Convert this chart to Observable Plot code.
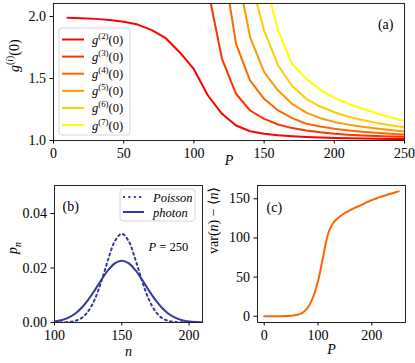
<!DOCTYPE html>
<html><head><meta charset="utf-8">
<script src="https://cdn.jsdelivr.net/npm/d3@7"></script>
<script src="https://cdn.jsdelivr.net/npm/@observablehq/plot@0.6"></script>
<style>
body{margin:0;background:#fff}
#fig{position:relative;width:415px;height:363px;overflow:hidden;background:#fff}
#fig svg{position:absolute}
</style></head><body><div id="fig"></div>
<script>
// ---------- panel (a) data ----------
const pumpA = [10,20,30,40,50,60,70,80,90,100,110,120,130,140,150,160,170,180,190,200,210,220,230,240,250];
const g2 = [1.99,1.987,1.981,1.971,1.957,1.935,1.89,1.825,1.71,1.575,1.363,1.215,1.121,1.075,1.054,1.042,1.034,1.028,1.024,1.02,1.018,1.016,1.014,1.013,1.012];
const g3 = [5.95,5.9,5.85,5.75,5.6,5.35,4.95,4.35,3.6,2.85,2.22,1.659,1.377,1.242,1.175,1.129,1.1,1.08,1.066,1.055,1.047,1.041,1.037,1.033,1.03];
const g4 = [23.5,23.2,22.8,22.2,21,19,16,12.5,9,5.5,3.6,2.49,1.78,1.484,1.336,1.242,1.18,1.135,1.113,1.094,1.081,1.07,1.062,1.055,1.048];
const g5 = [115,113,110,105,96,82,64,45,27,15,8,3.6,2.41,1.833,1.551,1.403,1.295,1.225,1.18,1.15,1.128,1.11,1.096,1.084,1.073];
const g6 = [700,690,670,640,590,510,400,280,160,80,35,12,4.5,2.314,1.887,1.605,1.44,1.336,1.274,1.228,1.192,1.165,1.142,1.123,1.107];
const g7 = [5000,4900,4750,4500,4100,3500,2700,1800,1000,450,170,55,14,4.2,2.32,1.887,1.615,1.497,1.409,1.344,1.296,1.256,1.22,1.188,1.156];
const gSeries = [g2,g3,g4,g5,g6,g7];
const gLabels = ["g^{(2)}(0)","g^{(3)}(0)","g^{(4)}(0)","g^{(5)}(0)","g^{(6)}(0)","g^{(7)}(0)"];
const gColors = ["#ff0000","#ff3300","#ff6600","#ff9900","#ffcc00","#ffff00"];
const xTicksA = [0,50,100,150,200,250];
const yTicksA = [1.0,1.5,2.0];

// ---------- panel (b) data ----------
const nVals = [100,105,110,115,120,125,130,135,140,145,150,155,160,165,170,175,180,185,190,195,200,205,210];
const poisson = [0.00001,0.00004,0.00016,0.00055,0.0016,0.0041,0.0086,0.0154,0.0233,0.0300,0.0326,0.0300,0.0233,0.0154,0.0086,0.0041,0.0016,0.00055,0.00016,0.00004,0.00001,0,0];
const photon = [0.0004,0.00086,0.0017,0.0031,0.0053,0.0083,0.0119,0.0158,0.0193,0.0218,0.0227,0.0218,0.0193,0.0158,0.0119,0.0083,0.0053,0.0031,0.0017,0.00086,0.0004,0.00017,0.00007];
const xTicksB = [100,150,200];
const yTicksB = [0,0.02,0.04];

// ---------- panel (c) data ----------
const pumpC = [0,10,20,30,40,50,60,70,80,90,100,110,120,130,140,150,160,170,180,190,200,210,220,230,240,250];
const varExcess = [0,0,0,0.1,0.3,0.6,1.5,4,10,23,45,78,108,121,127,132,135.5,139,142,145.5,148.3,151,153.3,155.5,157.5,159.5];
const xTicksC = [0,100,200];
const yTicksC = [0,50,100,150];

const FONT = "'Liberation Serif', 'DejaVu Serif', serif";
const baseStyle = {fontFamily: FONT, fontSize: "14px", color: "#000", background: "transparent", overflow: "visible"};
const svgns = "http://www.w3.org/2000/svg";
const fig = document.getElementById("fig");

// rich text: *x* italic, ^{..} superscript, _{..} subscript
function parse(str) {
  const out = [];
  const re = /\^\{([^}]*)\}|_\{([^}]*)\}|\*([^*]*)\*|([^*^_]+)/g;
  let m;
  while ((m = re.exec(str))) {
    if (m[1] != null) for (const s of parse(m[1])) out.push({...s, pos: "sup"});
    else if (m[2] != null) for (const s of parse(m[2])) out.push({...s, pos: "sub"});
    else if (m[3] != null) out.push({t: m[3], it: true, pos: "base"});
    else out.push({t: m[4], it: false, pos: "base"});
  }
  return out;
}
function richify(svg) {
  d3.select(svg).selectAll("text").each(function() {
    const el = this;
    if (el.querySelector("tspan")) return;
    const s = el.textContent;
    if (!/[*^_]/.test(s)) return;
    const fs = parseFloat(getComputedStyle(el).fontSize) || 14;
    el.textContent = "";
    let cur = 0;
    for (const sg of parse(s)) {
      const target = sg.pos === "sup" ? -0.4 * fs : sg.pos === "sub" ? 0.28 * fs : 0;
      const ts = document.createElementNS(svgns, "tspan");
      ts.textContent = sg.t;
      ts.setAttribute("font-style", sg.it ? "italic" : "normal");
      if (sg.pos !== "base") ts.setAttribute("font-size", (0.7 * fs).toFixed(1));
      const dy = target - cur;
      if (dy) ts.setAttribute("dy", dy.toFixed(2));
      cur = target;
      el.appendChild(ts);
    }
  });
}
function place(svg, left, top) {
  svg.style.left = left + "px";
  svg.style.top = top + "px";
  fig.appendChild(svg);
}

// ---------- panel (a) ----------
const rowsA = [];
gSeries.forEach((arr, k) => arr.forEach((v, i) => rowsA.push({P: pumpA[i], g: v, s: gLabels[k]})));

const plotA = Plot.plot({
  width: 415, height: 175,
  marginLeft: 53, marginRight: 11, marginTop: 3, marginBottom: 35,
  x: {domain: [0, 250]},
  y: {domain: [1, 2.105]},
  color: {domain: gLabels, range: gColors},
  style: baseStyle,
  marks: [
    Plot.line(rowsA, {x: "P", y: "g", z: "s", stroke: "s", strokeWidth: 2, clip: true}),
    Plot.frame({stroke: "#222", strokeWidth: 1}),
    Plot.axisX({ticks: xTicksA, tickSize: 3.5, tickPadding: 4, label: null, fontSize: 14}),
    Plot.axisY({ticks: yTicksA, tickFormat: d3.format(".1f"), tickSize: 3.5, tickPadding: 4, label: null, fontSize: 14}),
    Plot.text(["*P*"], {text: d => d, frameAnchor: "bottom", dy: 24, fontSize: 14}),
    Plot.text(["*g*^{(*i*)}(0)"], {text: d => d, frameAnchor: "left", dx: -39, rotate: -90, fontSize: 14}),
    Plot.text(["(a)"], {text: d => d, frameAnchor: "top-right", dx: -11, dy: 16, textAnchor: "end", fontSize: 14})
  ]
});
place(plotA, 0, 0);
{
  const g = d3.select(plotA).append("g").attr("font-family", FONT).attr("font-size", 12.5).attr("text-anchor", "start");
  g.append("rect").attr("x", 59).attr("y", 28).attr("width", 71).attr("height", 107).attr("rx", 3)
    .attr("fill", "#fff").attr("fill-opacity", 0.8).attr("stroke", "#d6d6d6").attr("stroke-width", 1);
  gLabels.forEach((lab, k) => {
    const y = 39.5 + k * 17.1;
    g.append("line").attr("x1", 62).attr("x2", 84).attr("y1", y).attr("y2", y)
      .attr("stroke", gColors[k]).attr("stroke-width", 2);
    g.append("text").attr("x", 92).attr("y", y + 4.5).text(lab.replace("g", "*g*"));
  });
}
richify(plotA);

// ---------- panel (b) ----------
const rowsB = nVals.map((n, i) => ({n, p: poisson[i], s: "Poisson"}));
const rowsB2 = nVals.map((n, i) => ({n, p: photon[i], s: "photon"}));
const blue = "#34389a";
const dots = "2,3.4";

const plotB = Plot.plot({
  width: 207, height: 193,
  marginLeft: 54, marginRight: 5, marginTop: 15, marginBottom: 41,
  x: {domain: [100, 210]},
  y: {domain: [0, 0.0503]},
  style: baseStyle,
  marks: [
    Plot.line(rowsB, {x: "n", y: "p", stroke: blue, strokeWidth: 2, strokeDasharray: dots, curve: "catmull-rom", clip: true}),
    Plot.line(rowsB2, {x: "n", y: "p", stroke: blue, strokeWidth: 2, curve: "catmull-rom", clip: true}),
    Plot.frame({stroke: "#222", strokeWidth: 1}),
    Plot.axisX({ticks: xTicksB, tickSize: 3.5, tickPadding: 4, label: null, fontSize: 14}),
    Plot.axisY({ticks: yTicksB, tickFormat: d3.format(".2f"), tickSize: 3.5, tickPadding: 4, label: null, fontSize: 14}),
    Plot.text(["*n*"], {text: d => d, frameAnchor: "bottom", dy: 33, fontSize: 14}),
    Plot.text(["*p*_{*n*}"], {text: d => d, frameAnchor: "left", dx: -42, rotate: -90, fontSize: 14}),
    Plot.text(["(b)"], {text: d => d, frameAnchor: "top-left", dx: 8, dy: 16, textAnchor: "start", fontSize: 14}),
    Plot.text(["*P* = 250"], {text: d => d, frameAnchor: "top-left", dx: 94, dy: 57, textAnchor: "start", fontSize: 12.5})
  ]
});
place(plotB, 0, 170);
{
  const g = d3.select(plotB).append("g").attr("font-family", FONT).attr("font-size", 12.5).attr("text-anchor", "start");
  g.append("rect").attr("x", 120).attr("y", 19).attr("width", 75).attr("height", 32).attr("rx", 3)
    .attr("fill", "#fff").attr("fill-opacity", 0.8).attr("stroke", "#d6d6d6").attr("stroke-width", 1);
  [["*Poisson*", dots, 27], ["*photon*", null, 42]].forEach(([lab, dash, y]) => {
    const l = g.append("line").attr("x1", 123).attr("x2", 144).attr("y1", y).attr("y2", y)
      .attr("stroke", blue).attr("stroke-width", 2);
    if (dash) l.attr("stroke-dasharray", dash);
    g.append("text").attr("x", 153).attr("y", y + 4.5).text(lab);
  });
}
richify(plotB);

// ---------- panel (c) ----------
const rowsC = pumpC.map((P, i) => ({P, v: varExcess[i]}));
const plotC = Plot.plot({
  width: 208, height: 193,
  marginLeft: 50, marginRight: 10, marginTop: 15, marginBottom: 41,
  x: {domain: [-12.5, 262.5]},
  y: {domain: [-8, 167]},
  style: baseStyle,
  marks: [
    Plot.line(rowsC, {x: "P", y: "v", stroke: "#ff6600", strokeWidth: 2, curve: "catmull-rom", clip: true}),
    Plot.frame({stroke: "#222", strokeWidth: 1}),
    Plot.axisX({ticks: xTicksC, tickSize: 3.5, tickPadding: 4, label: null, fontSize: 14}),
    Plot.axisY({ticks: yTicksC, tickSize: 3.5, tickPadding: 4, label: null, fontSize: 14}),
    Plot.text(["*P*"], {text: d => d, frameAnchor: "bottom", dy: 31, fontSize: 14}),
    Plot.text(["var(*n*) − ⟨*n*⟩"], {text: d => d, frameAnchor: "left", dx: -44, rotate: -90, fontSize: 14}),
    Plot.text(["(c)"], {text: d => d, frameAnchor: "top-left", dx: 9, dy: 17, textAnchor: "start", fontSize: 14})
  ]
});
place(plotC, 207, 170);
richify(plotC);
</script></body></html>
